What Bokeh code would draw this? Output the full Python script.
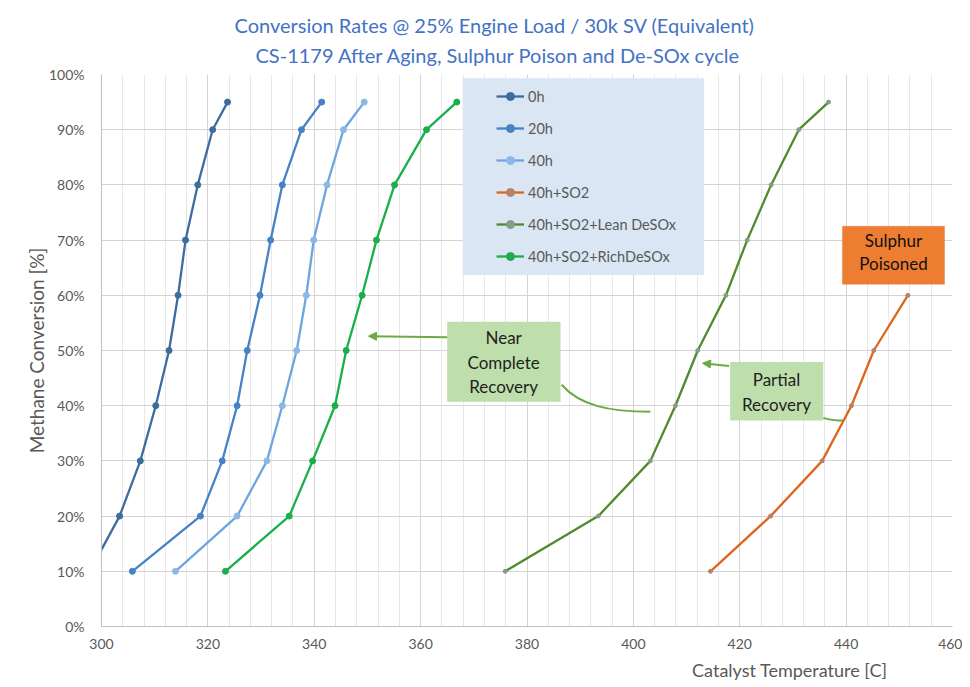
from bokeh.plotting import figure
from bokeh.models import (FixedTicker, PrintfTickFormatter, Legend, LegendItem, Label, Title,
                          BoxAnnotation, Arrow, NormalHead, ColumnDataSource)
from bokeh.embed import file_html
from bokeh.resources import INLINE

# ---------------- data ----------------
conv_full = [10, 20, 30, 40, 50, 60, 70, 80, 90, 95]
conv_so2 = [10, 20, 30, 40, 50, 60]
temp_0h = [297.8, 303.4, 307.3, 310.2, 312.7, 314.4, 315.8, 318.1, 320.9, 323.7]
temp_20h = [305.8, 318.6, 322.7, 325.5, 327.4, 329.8, 331.8, 334.0, 337.6, 341.4]
temp_40h = [313.9, 325.5, 331.1, 334.0, 336.7, 338.5, 339.9, 342.4, 345.5, 349.4]
temp_so2 = [414.5, 425.8, 435.5, 441.0, 445.2, 451.6]
temp_lean = [375.9, 393.4, 403.2, 407.9, 412.1, 417.4, 421.4, 425.9, 431.1, 436.7]
temp_rich = [323.3, 335.3, 339.7, 343.9, 346.0, 349.0, 351.7, 355.1, 361.1, 366.8]
series_names = ["0h", "20h", "40h", "40h+SO2", "40h+SO2+Lean DeSOx", "40h+SO2+RichDeSOx"]
x_ticks = [300, 320, 340, 360, 380, 400, 420, 440, 460]
y_ticks = [0, 10, 20, 30, 40, 50, 60, 70, 80, 90, 100]
title1 = "Conversion Rates @ 25% Engine Load / 30k SV (Equivalent)"
title2 = "CS-1179 After Aging, Sulphur Poison and De-SOx cycle"
x_label = "Catalyst Temperature [C]"
y_label = "Methane Conversion [%]"

FONT = "Lato"
GRAY = "#595959"

p = figure(width=962, height=686, x_range=(300, 460), y_range=(0, 100),
           output_backend="svg", toolbar_location=None,
           min_border_left=101, min_border_right=10, min_border_top=74, min_border_bottom=59)
p.outline_line_color = None
p.background_fill_color = "white"

# axes
p.xaxis.ticker = FixedTicker(ticks=x_ticks, minor_ticks=list(range(300, 461, 4)))
p.yaxis.ticker = FixedTicker(ticks=y_ticks)
p.yaxis.formatter = PrintfTickFormatter(format="%d%%")
for ax in (p.xaxis, p.yaxis):
    ax.major_tick_line_color = None
    ax.minor_tick_line_color = None
    ax.axis_line_color = "#BFBFBF"
    ax.major_label_text_color = GRAY
    ax.major_label_text_font = FONT
    ax.major_label_text_font_size = "14px"
    ax.major_tick_out = 0
    ax.major_tick_in = 0
    ax.minor_tick_out = 0
p.xaxis.major_label_standoff = 12
p.yaxis.major_label_standoff = 17
p.yaxis.axis_label = y_label
p.yaxis.axis_label_text_font = FONT
p.yaxis.axis_label_text_font_style = "normal"
p.yaxis.axis_label_text_font_size = "19px"
p.yaxis.axis_label_text_color = GRAY
p.yaxis.axis_label_standoff = -2

p.xgrid.grid_line_color = "#D4D4D4"
p.xgrid.minor_grid_line_color = "#E8E8E8"
p.ygrid.grid_line_color = "#D4D4D4"

# titles (added nearest-first)
p.add_layout(Title(text=title2, align="left", offset=154, text_font=FONT, text_font_size="20px",
                   text_font_style="normal", text_color="#4472C4", standoff=16), "above")
p.add_layout(Title(text=title1, align="left", offset=133, text_font=FONT, text_font_size="20px",
                   text_font_style="normal", text_color="#4472C4", standoff=-8), "above")
# x axis label
p.add_layout(Title(text=x_label, align="right", offset=65, text_font=FONT, text_font_size="18px",
                   text_font_style="normal", text_color=GRAY, standoff=11), "below")

# legend background box
p.add_layout(BoxAnnotation(left=367.9, right=413.3, bottom=63.7, top=99.3,
                           fill_color="#DAE6F3", fill_alpha=1.0, line_color=None, level="underlay"))

colors = ["#3D6C9E", "#4682C6", "#6CA5DF", "#E0651C", "#4F8A2E", "#1BAF4B"]
marker_colors = ["#3D6C9E", "#4682C6", "#8DB8E6", "#B7826A", "#8A9A8A", "#1BAF4B"]
marker_sizes = [6, 6, 6, 4, 4, 6]
xs = [temp_0h, temp_20h, temp_40h, temp_so2, temp_lean, temp_rich]
ys = [conv_full, conv_full, conv_full, conv_so2, conv_full, conv_full]

items = []
for name, x, y, c, mc, ms in zip(series_names, xs, ys, colors, marker_colors, marker_sizes):
    src = ColumnDataSource(dict(x=x, y=y))
    r1 = p.line("x", "y", source=src, line_color=c, line_width=2.3)
    r2 = p.scatter("x", "y", source=src, size=ms, fill_color=mc, line_color=mc)
    items.append(LegendItem(label=name, renderers=[r1, r2]))

legend = Legend(items=items, location=(395, 360), padding=0, margin=0,
                background_fill_alpha=0, border_line_color=None,
                label_text_font=FONT, label_text_font_size="14.5px", label_text_color=GRAY,
                glyph_width=28, glyph_height=20, label_height=20, spacing=12,
                label_standoff=4)
p.add_layout(legend, "center")

# annotation boxes
BOXG = "#BEDEAB"
ARR = "#6DAA45"
p.add_layout(BoxAnnotation(left=365.0, right=386.3, bottom=40.7, top=55.2,
                           fill_color=BOXG, fill_alpha=1.0, line_color=None))
for txt, yy in (("Near", 52.4), ("Complete", 47.9), ("Recovery", 43.4)):
    p.add_layout(Label(x=375.6, y=yy, text=txt, text_align="center", text_baseline="middle",
                       text_font=FONT, text_font_size="17px", text_color="#1E1E1E"))
p.add_layout(Arrow(x_start=365.0, y_start=52.4, x_end=350.2, y_end=52.6, line_color=ARR,
                   line_width=2, end=NormalHead(size=8, fill_color=ARR, line_color=ARR)))
p.bezier(x0=[386.5], y0=[43.8], x1=[403.2], y1=[38.9], cx0=[390.0], cy0=[40.0],
         cx1=[395.5], cy1=[38.9], line_color=ARR, line_width=2)

p.add_layout(BoxAnnotation(left=418.2, right=435.7, bottom=37.3, top=47.9,
                           fill_color=BOXG, fill_alpha=1.0, line_color=None))
for txt, yy in (("Partial", 44.7), ("Recovery", 40.3)):
    p.add_layout(Label(x=426.9, y=yy, text=txt, text_align="center", text_baseline="middle",
                       text_font=FONT, text_font_size="17px", text_color="#1E1E1E"))
p.add_layout(Arrow(x_start=418.0, y_start=47.2, x_end=413.0, y_end=47.7, line_color=ARR,
                   line_width=2, end=NormalHead(size=8, fill_color=ARR, line_color=ARR)))
p.bezier(x0=[435.7], y0=[37.8], x1=[439.5], y1=[37.3], cx0=[437.0], cy0=[37.4],
         cx1=[438.5], cy1=[37.3], line_color=ARR, line_width=2)

p.add_layout(BoxAnnotation(left=439.3, right=458.5, bottom=62.0, top=72.5,
                           fill_color="#ED7D31", fill_alpha=1.0, line_color="#D86A22", line_width=1))
for txt, yy in (("Sulphur", 69.9), ("Poisoned", 65.7)):
    p.add_layout(Label(x=448.9, y=yy, text=txt, text_align="center", text_baseline="middle",
                       text_font=FONT, text_font_size="17px", text_color="#111111"))

open("out.html", "w").write(file_html(p, INLINE))
